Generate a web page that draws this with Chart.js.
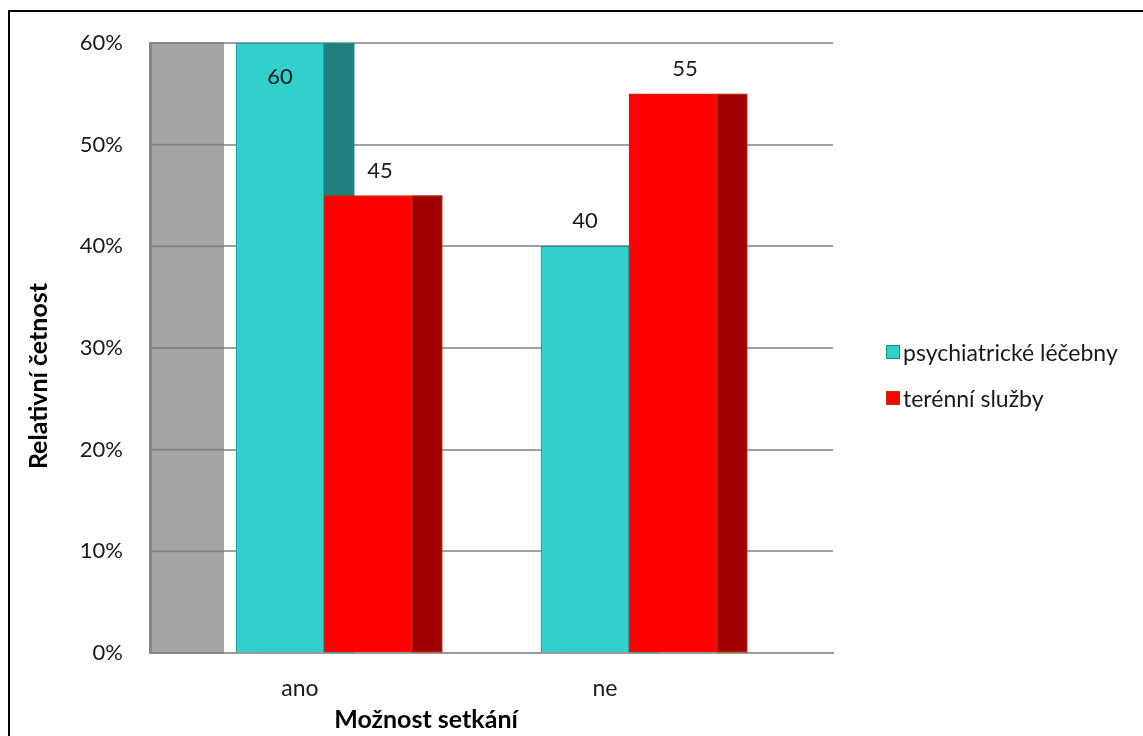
<!DOCTYPE html>
<html>
<head>
<meta charset="utf-8">
<title>Možnost setkání</title>
<script src="https://cdn.jsdelivr.net/npm/chart.js@4.4.1/dist/chart.umd.min.js"></script>
<style>
  html, body { margin: 0; padding: 0; background: #fff; overflow: hidden; }
  #frame { position: absolute; left: 8px; top: 10px; width: 1300px; height: 900px;
           border-left: 2px solid #000; border-top: 2px solid #000; }
  #wrap { position: absolute; left: 0; top: 0; width: 1143px; height: 736px; }
  #legend { position: absolute; left: 886px; top: 339px; font-family: Lato, sans-serif;
            font-size: 23px; color: #1a1a1a; }
  #legend .item { display: flex; align-items: center; height: 26px; margin-bottom: 20px; white-space: nowrap; }
  #legend .box { width: 12px; height: 12px; margin-right: 3px; border: 1px solid; }
</style>
</head>
<body>
<div id="frame"></div>
<div id="wrap"><canvas id="chart" width="1143" height="736"></canvas></div>
<div id="legend"></div>
<script>
// Categories, series and axis labels
const categories = ['ano', 'ne'];
const seriesNames = ['psychiatrické léčebny', 'terénní služby'];
const psychiatrickeLecebny = [60, 40];
const terenniSluzby = [45, 55];
const yTickValues = [0, 10, 20, 30, 40, 50, 60];
const xTitle = 'Možnost setkání';
const yTitle = 'Relativní četnost';

const FONT = 'Lato, sans-serif';
const TEXT = '#1a1a1a';
const DEPTH = 30;        // horizontal depth of the bar side faces
const WALL = 74;         // width of the grey side wall

const toPoints = arr => arr.map((v, i) => ({ x: i, y: v }));

// Grey side wall at the left of the plot, then the dark side faces of all bars.
// Both are painted before any front face, so front faces overlap the sides behind them.
const depthLayer = {
  id: 'depthLayer',
  beforeDatasetsDraw(chart) {
    const { ctx, chartArea: a, scales: { y } } = chart;
    ctx.save();
    ctx.fillStyle = '#a5a5a5';
    ctx.fillRect(a.left, a.top, WALL, a.bottom - a.top);
    ctx.strokeStyle = '#868686';
    ctx.lineWidth = 2;
    y.ticks.forEach(t => {
      const py = y.getPixelForValue(t.value);
      ctx.beginPath();
      ctx.moveTo(a.left, py);
      ctx.lineTo(a.left + WALL, py);
      ctx.stroke();
    });
    ctx.beginPath();
    ctx.moveTo(a.left + 1, a.top);
    ctx.lineTo(a.left + 1, a.bottom);
    ctx.stroke();

    chart.data.datasets.forEach((ds, di) => {
      chart.getDatasetMeta(di).data.forEach(bar => {
        const p = bar.getProps(['x', 'y', 'width', 'base'], true);
        const right = p.x + p.width / 2;
        ctx.fillStyle = ds.sideColor;
        ctx.fillRect(right, p.y, DEPTH, p.base - p.y);
        ctx.strokeStyle = ds.borderColor;
        ctx.lineWidth = 1;
        ctx.strokeRect(right, p.y + 0.5, DEPTH, p.base - p.y - 0.5);
      });
    });
    ctx.restore();
  }
};

// Value labels above each bar (inside when the bar reaches the top)
const valueLabels = {
  id: 'valueLabels',
  afterDatasetsDraw(chart) {
    const { ctx, scales: { y } } = chart;
    ctx.save();
    ctx.font = '22px ' + FONT;
    ctx.fillStyle = TEXT;
    ctx.textAlign = 'center';
    ctx.textBaseline = 'middle';
    chart.data.datasets.forEach((ds, di) => {
      chart.getDatasetMeta(di).data.forEach((bar, i) => {
        const v = ds.data[i].y;
        const p = bar.getProps(['x', 'y'], true);
        const shift = di === 1 ? 12 : 0;
        const ty = v >= y.max ? p.y + 34 : p.y - 25;
        ctx.fillText(String(v), p.x + shift, ty);
      });
    });
    ctx.restore();
  }
};

// Axis titles
const axisTitles = {
  id: 'axisTitles',
  afterDraw(chart) {
    const ctx = chart.ctx;
    ctx.save();
    ctx.font = 'bold 25px ' + FONT;
    ctx.fillStyle = '#000';
    ctx.textAlign = 'center';
    ctx.textBaseline = 'middle';
    ctx.fillText(xTitle, 426, 720);
    ctx.translate(39, 376);
    ctx.rotate(-Math.PI / 2);
    ctx.fillText(yTitle, 0, 0);
    ctx.restore();
  }
};

// HTML legend generated from the datasets
const htmlLegend = {
  id: 'htmlLegend',
  afterUpdate(chart) {
    const box = document.getElementById('legend');
    box.innerHTML = '';
    chart.data.datasets.forEach(ds => {
      const item = document.createElement('div');
      item.className = 'item';
      const sw = document.createElement('span');
      sw.className = 'box';
      sw.style.background = ds.backgroundColor;
      sw.style.borderColor = ds.legendBorder;
      const label = document.createElement('span');
      label.textContent = ds.label;
      item.appendChild(sw);
      item.appendChild(label);
      box.appendChild(item);
    });
  }
};

new Chart(document.getElementById('chart'), {
  type: 'bar',
  data: {
    datasets: [
      {
        label: seriesNames[0],
        data: toPoints(psychiatrickeLecebny),
        backgroundColor: '#33cfcd',
        borderColor: '#17908f',
        sideColor: '#1f7f7d',
        legendBorder: '#17908f',
        borderWidth: 1
      },
      {
        label: seriesNames[1],
        data: toPoints(terenniSluzby),
        backgroundColor: '#ff0000',
        borderColor: '#b8360a',
        sideColor: '#a00000',
        legendBorder: '#b8360a',
        borderWidth: 1
      }
    ]
  },
  options: {
    responsive: false,
    animation: false,
    layout: { padding: { top: 43, right: 310, left: 0, bottom: 0 } },
    datasets: { bar: { barThickness: 88 } },
    plugins: { legend: { display: false }, tooltip: { enabled: false } },
    scales: {
      x: {
        type: 'linear',
        offset: false,
        min: -0.5705,
        max: 1.6689,
        afterBuildTicks: s => { s.ticks = categories.map((_, i) => ({ value: i })); },
        afterFit: s => { s.height = 83; },
        ticks: {
          callback: v => categories[v],
          labelOffset: -24,
          padding: 22,
          maxRotation: 0,
          autoSkip: false,
          color: TEXT,
          font: { family: FONT, size: 23 }
        },
        grid: { display: false, drawTicks: false },
        border: { display: true, color: '#9a9a9a', width: 2 }
      },
      y: {
        min: 0,
        max: 60,
        afterBuildTicks: s => { s.ticks = yTickValues.map(v => ({ value: v })); },
        afterFit: s => { s.width = 150; },
        ticks: {
          callback: v => v + '%',
          padding: 27,
          color: TEXT,
          font: { family: FONT, size: 22 }
        },
        grid: { color: '#a0a0a0', lineWidth: 2, drawTicks: false },
        border: { display: true, color: '#868686', width: 2 }
      }
    }
  },
  plugins: [depthLayer, valueLabels, axisTitles, htmlLegend]
});
</script>
</body>
</html>
